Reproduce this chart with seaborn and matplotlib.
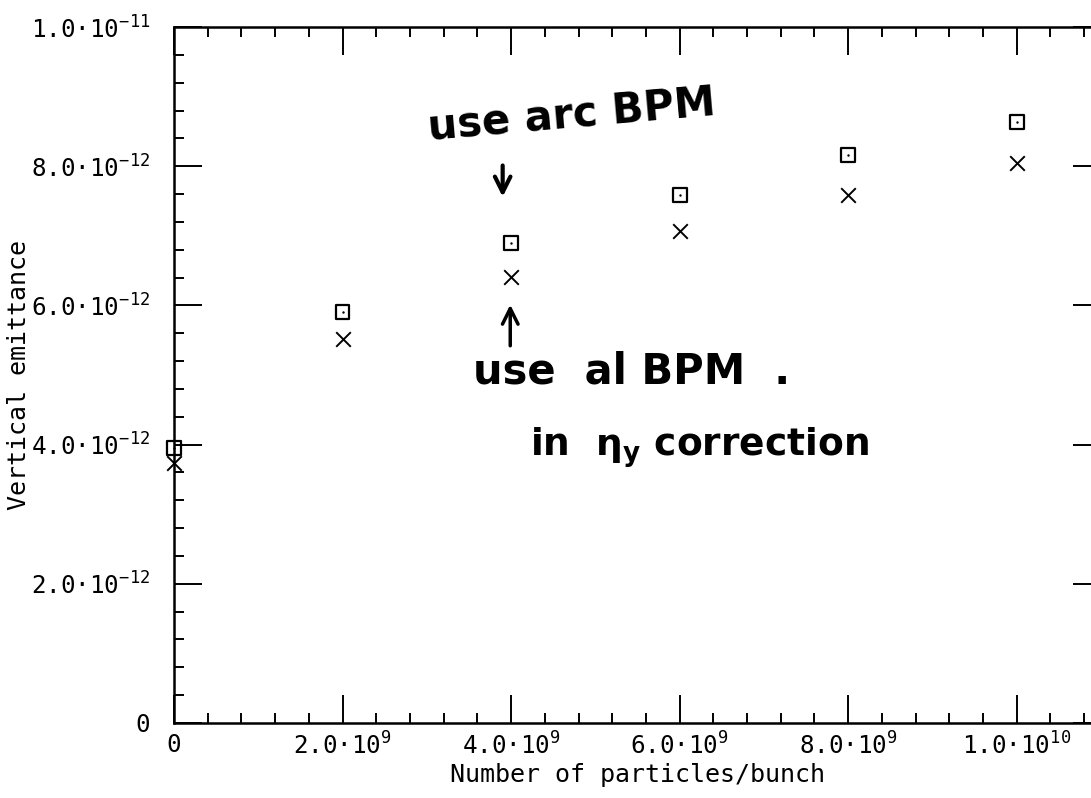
import matplotlib
matplotlib.use("Agg")
import matplotlib.pyplot as plt
import seaborn as sns
import pandas as pd
from matplotlib.ticker import FixedLocator, MultipleLocator

# ---- data ----
particles = [0.0, 2e9, 4e9, 6e9, 8e9, 1e10]
emit_arc_bpm = [3.95e-12, 5.91e-12, 6.90e-12, 7.59e-12, 8.16e-12, 8.64e-12]
emit_all_bpm = [3.74e-12, 5.52e-12, 6.41e-12, 7.07e-12, 7.59e-12, 8.05e-12]

xtick_vals = [0.0, 2e9, 4e9, 6e9, 8e9, 1e10]
xtick_labels = ["0", "2.0·10$^{9}$", "4.0·10$^{9}$", "6.0·10$^{9}$",
                "8.0·10$^{9}$", "1.0·10$^{10}$"]
ytick_vals = [0.0, 2e-12, 4e-12, 6e-12, 8e-12, 1e-11]
ytick_labels = ["0", "2.0·10$^{-12}$", "4.0·10$^{-12}$", "6.0·10$^{-12}$",
                "8.0·10$^{-12}$", "1.0·10$^{-11}$"]

sns.set_style("white")
plt.rcParams["font.family"] = ["DejaVu Sans Mono", "DejaVu Sans"]
plt.rcParams["mathtext.default"] = "regular"

df = pd.DataFrame({"n": particles, "arc": emit_arc_bpm, "all": emit_all_bpm})

fig = plt.figure(figsize=(10.91, 7.98), dpi=100)
ax = fig.add_axes([174 / 1091, 75 / 798, 927 / 1091, 696 / 798])

sns.scatterplot(data=df, x="n", y="arc", marker="s", s=100,
                facecolor="none", edgecolor="black", linewidth=1.6, ax=ax,
                zorder=3, clip_on=False)
sns.scatterplot(data=df, x="n", y="arc", marker="o", s=3,
                color="black", linewidth=0, ax=ax, zorder=4, clip_on=False)
sns.scatterplot(data=df, x="n", y="all", marker="x", s=110,
                color="black", linewidth=1.4, ax=ax, zorder=3, clip_on=False)

ax.set_xlim(0, 1.1e10)
ax.set_ylim(0, 1e-11)

ax.xaxis.set_major_locator(FixedLocator(xtick_vals))
ax.set_xticklabels(xtick_labels)
ax.xaxis.set_minor_locator(MultipleLocator(0.4e9))
ax.yaxis.set_major_locator(FixedLocator(ytick_vals))
ax.set_yticklabels(ytick_labels)
ax.yaxis.set_minor_locator(MultipleLocator(0.4e-12))

ax.tick_params(which="major", direction="in", length=20, width=1.4,
               top=True, right=True, bottom=True, left=True,
               labelsize=17.5, color="black", labelcolor="black")
ax.tick_params(axis="y", which="major", pad=17)
ax.tick_params(axis="x", which="major", pad=7)
ax.tick_params(which="minor", direction="in", length=7, width=1.4,
               top=True, right=True, bottom=True, left=True, color="black")

for sp in ax.spines.values():
    sp.set_linewidth(1.8)
    sp.set_color("black")
    sp.set_visible(True)

ax.set_xlabel("Number of particles/bunch", fontsize=18, color="black",
              labelpad=2)
ax.set_ylabel("Vertical emittance", fontsize=18, color="black")
ax.yaxis.set_label_coords(-0.154, 0.5)

# handwritten annotations
hand = dict(fontsize=30, fontweight="bold", family="DejaVu Sans",
            color="black", ha="center", va="center")
ax.text(4.72e9, 8.74e-12, "use arc BPM", rotation=5, **hand)
ax.text(5.43e9, 5.05e-12, "use  al BPM  .", **hand)
ax.text(6.24e9, 3.95e-12, "in  $\\eta_y$ correction",
        **{**hand, "fontsize": 27})
ax.annotate("", xy=(3.90e9, 7.52e-12), xytext=(3.90e9, 8.05e-12),
            arrowprops=dict(arrowstyle="->", lw=3, color="black",
                            mutation_scale=28))
ax.annotate("", xy=(3.99e9, 6.05e-12), xytext=(3.99e9, 5.38e-12),
            arrowprops=dict(arrowstyle="->", lw=2.5, color="black",
                            mutation_scale=28))

fig.savefig("out.png", dpi=100)
